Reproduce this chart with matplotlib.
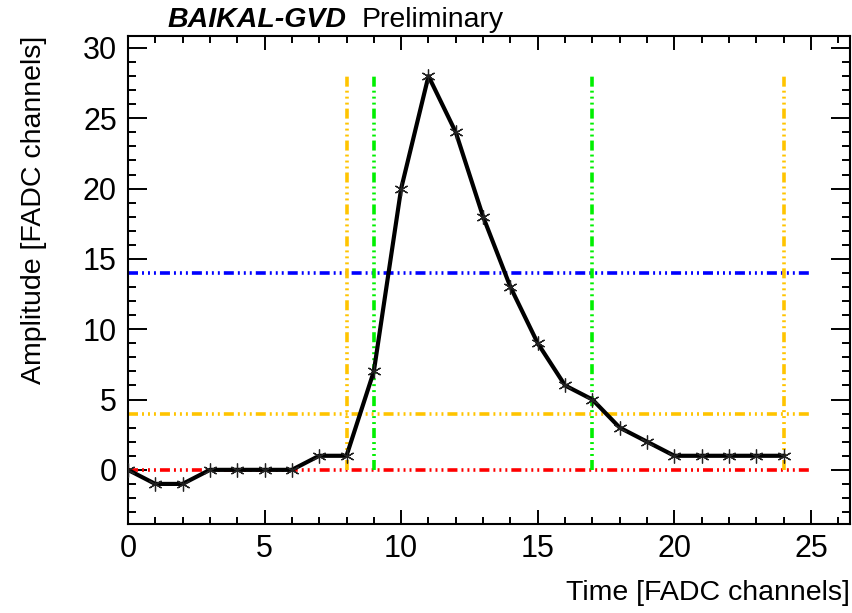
import matplotlib
matplotlib.use("Agg")
import matplotlib.pyplot as plt
from matplotlib.ticker import MultipleLocator

plt.rcParams['font.family'] = ['Liberation Sans', 'DejaVu Sans']
plt.rcParams['lines.scale_dashes'] = False

# pulse samples
t = list(range(25))
amp = [0, -1, -1, 0, 0, 0, 0, 1, 1, 7, 20, 28, 24, 18, 13, 9, 6, 5, 3, 2, 1, 1, 1, 1, 1]

# threshold levels (y, colour)
hlines = [(0, '#ff0000'), (4, '#ffc400'), (14, '#0000ff')]
# window edges (x, colour)
vlines = [(8, '#ffc400'), (24, '#ffc400'), (9, '#00f000'), (17, '#00f000')]
line_top = 28
line_end = 25

dash = (0, (7.2, 2.9, 1.4, 2.9, 1.4, 2.9, 1.4, 2.9))

fig = plt.figure(figsize=(8.53, 6.13), dpi=100)
ax = fig.add_axes([0.150, 0.1452, 0.8465, 0.7961])

for y, c in hlines:
    ax.plot([0, line_end], [y, y], color=c, lw=2.6, linestyle=dash, zorder=2)
for x, c in vlines:
    ax.plot([x, x], [0, line_top], color=c, lw=2.6, linestyle=dash, zorder=2)

ax.plot(t, amp, color='black', lw=3.0, zorder=3)
ax.plot(t, amp, linestyle='none', marker=(6, 2, 0), markersize=10,
        markeredgewidth=0.9, color='#222222', zorder=4)

ax.set_xlim(0, 26.43)
ax.set_ylim(-3.85, 30.85)
ax.xaxis.set_major_locator(MultipleLocator(5))
ax.xaxis.set_minor_locator(MultipleLocator(1))
ax.yaxis.set_major_locator(MultipleLocator(5))
ax.yaxis.set_minor_locator(MultipleLocator(1))

ax.tick_params(which='both', direction='in', top=True, right=True,
               labelsize=22, width=1.4)
ax.tick_params(axis='x', which='major', length=10, pad=7)
ax.tick_params(axis='x', which='minor', length=5)
ax.tick_params(axis='y', which='major', length=14, pad=8)
ax.tick_params(axis='y', which='minor', length=6)
for s in ax.spines.values():
    s.set_linewidth(1.5)

ax.set_xlabel('Time [FADC channels]', fontsize=20.5, loc='right', labelpad=12)
ax.set_ylabel('Amplitude [FADC channels]', fontsize=20.5, loc='top', labelpad=26)

fig.text(0.196, 0.956, 'BAIKAL-GVD', fontsize=20.5, fontweight='bold',
         fontstyle='italic', ha='left', va='baseline')
fig.text(0.424, 0.956, 'Preliminary', fontsize=20.5, ha='left', va='baseline')

fig.savefig('out.png', dpi=100)
